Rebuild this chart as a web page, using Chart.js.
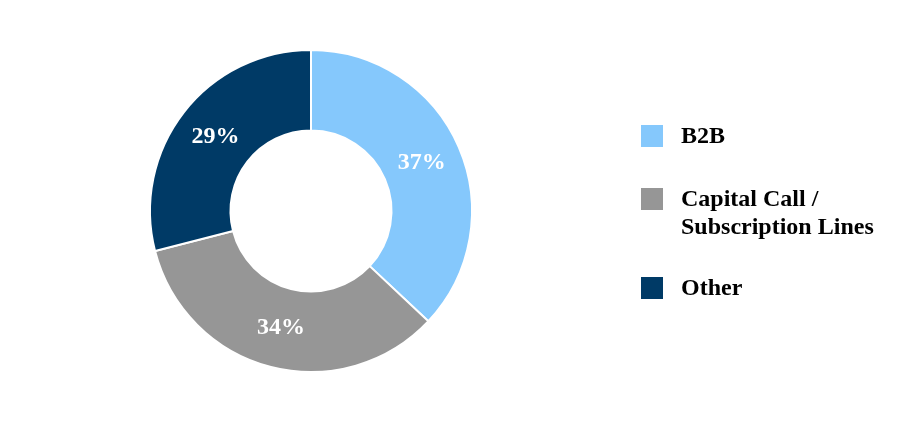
<!DOCTYPE html>
<html>
<head>
<meta charset="utf-8">
<script src="https://cdn.jsdelivr.net/npm/chart.js@4"></script>
<style>
	html, body { margin: 0; padding: 0; background: #fff; }
	#wrap { position: relative; width: 920px; height: 422px; }
	#chart { position: absolute; left: 0; top: 0; }
	#legend {
		position: absolute; left: 641px; top: 121px;
		font-family: "Liberation Serif", "Times New Roman", serif;
		font-weight: bold; font-size: 24px; color: #000;
	}
	.item { position: absolute; padding-left: 40px; line-height: 28px; white-space: nowrap; }
	.box { position: absolute; left: 0; top: 4px; width: 22px; height: 22px; }
</style>
</head>
<body>
<div id="wrap">
	<canvas id="chart" width="920" height="422"></canvas>
	<div id="legend"></div>
</div>
<script>
const labels = ['B2B', 'Capital Call / Subscription Lines', 'Other'];
const legendLines = [['B2B'], ['Capital Call /', 'Subscription Lines'], ['Other']];
const shares = [37, 34, 29];
const colors = ['#85c8fc', '#969696', '#003a66'];
const itemTops = [0, 63, 152];

// legend built by hand, since Chart.js can't do the two-line label
const legend = document.getElementById('legend');
legendLines.forEach((lines, i) => {
	const div = document.createElement('div');
	div.className = 'item';
	div.style.top = itemTops[i] + 'px';
	div.innerHTML = '<span class="box" style="background:' + colors[i] + '"></span>' + lines.join('<br>');
	legend.appendChild(div);
});

const pctLabels = {
	id: 'pctLabels',
	afterDatasetsDraw(chart) {
		const ctx = chart.ctx;
		const meta = chart.getDatasetMeta(0);
		ctx.save();
		ctx.fillStyle = '#fff';
		ctx.font = 'bold 24px "Liberation Serif", "Times New Roman", serif';
		ctx.textAlign = 'center';
		ctx.textBaseline = 'middle';
		meta.data.forEach((arc, i) => {
			const p = arc.getCenterPoint();
			ctx.fillText(shares[i] + '%', p.x, p.y);
		});
		ctx.restore();
	}
};

new Chart(document.getElementById('chart').getContext('2d'), {
	type: 'doughnut',
	data: {
		labels: labels,
		datasets: [{
			data: shares,
			backgroundColor: colors,
			borderColor: '#fff',
			borderWidth: 2,
		}],
	},
	options: {
		responsive: false,
		animation: false,
		cutout: '50%',
		layout: { padding: { left: 149, right: 447, top: 49, bottom: 49 } },
		plugins: {
			legend: { display: false },
			tooltip: { enabled: false },
		},
	},
	plugins: [pctLabels],
});
</script>
</body>
</html>
